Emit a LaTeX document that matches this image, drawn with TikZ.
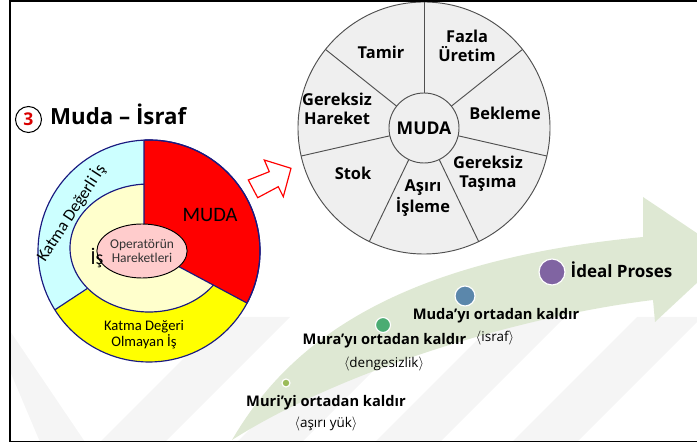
\documentclass[tikz,border=0pt]{standalone}
\usepackage{fontspec}
\setmainfont{Open Sans}
\newfontfamily\calibri{Carlito}
\usetikzlibrary{shapes.geometric}

\definecolor{ringcyan}{HTML}{CCFFFF}
\definecolor{ringyellow}{HTML}{FFFF00}
\definecolor{coreyellow}{HTML}{FFFFCC}
\definecolor{corepink}{HTML}{FFCCCC}
\definecolor{navyline}{HTML}{1A1A80}
\definecolor{wheelfill}{HTML}{EFEFEF}
\definecolor{wheelline}{HTML}{505050}
\definecolor{pathgreen}{HTML}{DEE8D3}
\definecolor{dotlime}{HTML}{9BBB59}
\definecolor{dotgreen}{HTML}{4BAC73}
\definecolor{dotblue}{HTML}{5B87AB}
\definecolor{dotpurple}{HTML}{8064A2}
\definecolor{markgray}{HTML}{F5F5F5}

\begin{document}
\begin{tikzpicture}[
            x = 0.03cm, y = 0.03cm, % one unit is one pixel of the layout
            navy/.style = {draw=navyline, line width=1pt}, % donut borders
            spoke/.style = {draw=wheelline, line width=0.8pt}, % wheel lines
            slice/.style = {font=\fontsize{14}{16}\selectfont\bfseries, align=center},
            stage/.style = {font=\fontsize{12.5}{14}\selectfont\bfseries},
            stagenote/.style = {font=\fontsize{11.5}{13}\selectfont},
            dot/.style 2 args = {circle, fill=#1, draw=white, line width=1pt,
                inner sep=0pt, minimum size=#2},
        ]
        \useasboundingbox (0,0) rectangle (697,446);

        % watermark stripes
        \foreach \s in {225,362,500,637}
            \fill[markgray] (\s,129) -- ++(65,0) -- ++(-125,-125) -- ++(-65,0) -- cycle;
        \fill[markgray] (10,115) -- (10,75) -- (40,4) -- (85,4) -- cycle;

        % green path arrow
        \begin{scope}
            \clip (0,0) rectangle (697,446);
            \fill[pathgreen] (232,6) .. controls (290,106) and (400,186) .. (643,209)
                -- (643,249) -- (728,192) -- (655,124) -- (653,146)
                .. controls (520,130) and (340,75) .. (232,6) -- cycle;
        \end{scope}

        % title
        \node[circle, draw, line width=0.9pt, inner sep=0pt, minimum size=0.78cm,
            text=red!85!black, font=\fontsize{15}{15}\selectfont\bfseries] (num) at (28.5,326.5) {3};
        \node[anchor=base west, inner sep=0pt, font=\fontsize{19}{22}\selectfont\bfseries]
            (title) at (50,321) {Muda – İsraf};

        % donut
        \fill[ringcyan] (149,195) circle[radius=111];
        \fill[ringyellow] (149,195) -- ++(212:111) arc[start angle=212, end angle=332, radius=111] -- cycle;
        \filldraw[fill=coreyellow, navy] (149,198) ellipse[x radius=79, y radius=64];
        \filldraw[fill=red, navy] (144,198) -- (144,305.9)
            arc[start angle=92.6, end angle=-28, radius=111] -- cycle;
        \draw[navy] (149,195) circle[radius=111];
        \draw[navy] (149,195) ++(212:111) -- (87.6,157.7);
        \node[ellipse, draw, fill=corepink, line width=0.8pt, inner sep=0pt,
            minimum width=1.8cm, minimum height=1.62cm, align=center, text=black!80,
            font=\calibri\fontsize{11.5}{12.5}\selectfont] (oper) at (142,195) {Operatörün\\Hareketleri};
        \node[font=\calibri\fontsize{17.5}{18}\selectfont] (mudaword) at (210,231) {MUDA};
        \node[font=\calibri\fontsize{17}{17}\selectfont] (is) at (97,188) {İş};
        \node[rotate=57, font=\calibri\fontsize{14.5}{15}\selectfont] (katma) at (71,233) {Katma Değerli İş};
        \node[align=center, font=\calibri\fontsize{12.5}{13.8}\selectfont] (olmayan) at (144,111)
            {Katma Değeri\\Olmayan İş};

        % red outline arrow
        \draw[red, line width=1pt, fill=white] (248.3,266) -- (269.3,274.3) -- (264.3,286)
            -- (291,277.7) -- (283.3,249.3) -- (278.3,259.3) -- (257.7,248.3) -- cycle;

        % wheel of the seven wastes
        \node[circle, spoke, fill=wheelfill, minimum size=7.56cm] (wheel) at (424,318) {};
        \foreach \a in {0,...,6}
            \draw[spoke] ([shift={(90-\a*360/7:35)}]wheel.center) -- ([shift={(90-\a*360/7:126)}]wheel.center);
        \node[circle, spoke, fill=wheelfill, minimum size=2.1cm, inner sep=0pt,
            font=\fontsize{15}{15}\selectfont\bfseries] (muda) at (424,318) {MUDA};
        \node[slice] (tamir) at (381,393.5) {Tamir};
        \node[slice] (fazla) at (467,400) {Fazla\\Üretim};
        \node[slice] (bekleme) at (505,333) {Bekleme};
        \node[slice] (tasima) at (488,272) {Gereksiz\\Taşıma};
        \node[slice] (isleme) at (423,248) {Aşırı\\İşleme};
        \node[slice] (stok) at (353,272.5) {Stok};
        \node[slice] (hareket) at (337,337) {Gereksiz\\Hareket};

        % steps on the path
        \node[dot={dotlime}{0.24cm}] (dotMuri) at (286,63) {};
        \node[dot={dotgreen}{0.45cm}] (dotMura) at (383,121) {};
        \node[dot={dotblue}{0.6cm}] (dotMuda) at (465,150) {};
        \node[dot={dotpurple}{0.78cm}] (dotIdeal) at (552,174) {};
        \node[stage] (muri) at (326,43) {Muri’yi ortadan kaldır};
        \node[stagenote] (muriNote) at (326,22) {\(\langle\)aşırı yük\(\rangle\)};
        \node[stage] (mura) at (384.5,105) {Mura’yı ortadan kaldır};
        \node[stagenote] (muraNote) at (384,82) {\(\langle\)dengesizlik\(\rangle\)};
        \node[stage] (mudaStep) at (496,130) {Muda’yı ortadan kaldır};
        \node[stagenote] (mudaNote) at (495,108) {\(\langle\)israf\(\rangle\)};
        \node[font=\fontsize{14.5}{15}\selectfont\bfseries] (ideal) at (621.5,176) {İdeal Proses};

        % frame
        \draw[line width=1.5pt] (697,445) -- (10,445) -- (10,4.5) -- (697,4.5);
        \end{tikzpicture}
\end{document}
